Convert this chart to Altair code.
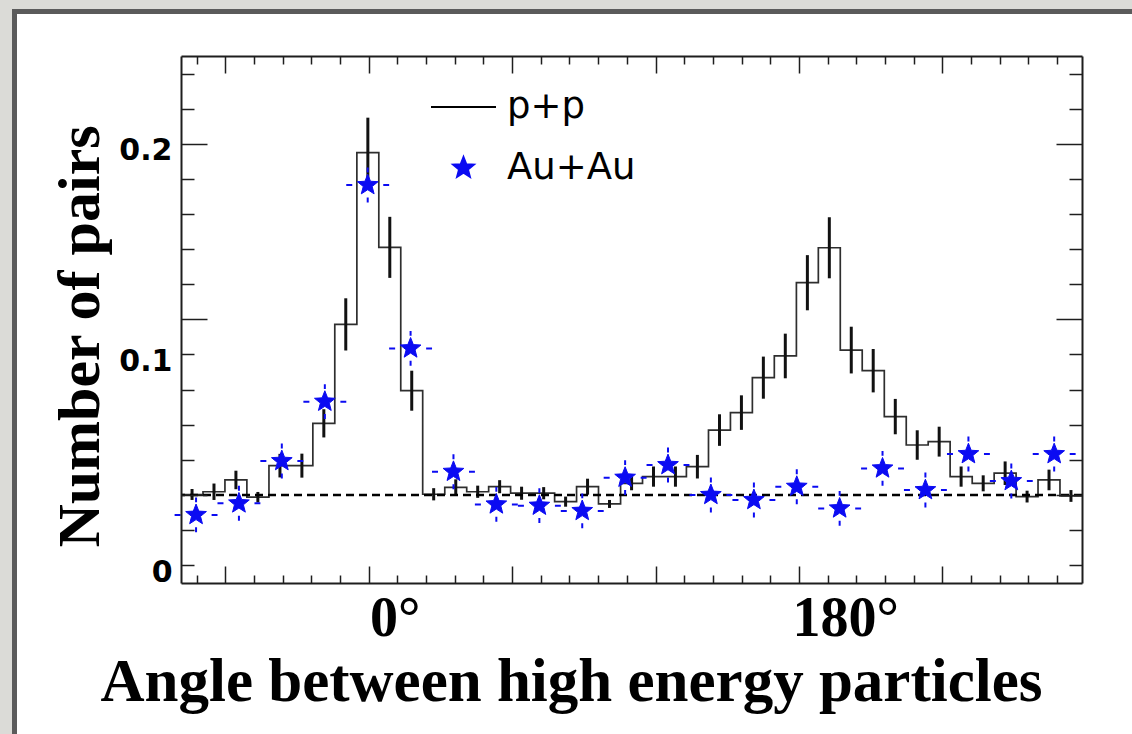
import math
import altair as alt
import pandas as pd

# ---------------- data ----------------
# p+p histogram (bin centres in radians, contents, statistical errors)
pp_x = [-1.232, -1.079, -0.926, -0.773, -0.619, -0.466, -0.313, -0.160, -0.006, 0.147,
        0.300, 0.453, 0.607, 0.760, 0.913, 1.066, 1.220, 1.373, 1.526, 1.679,
        1.833, 1.986, 2.139, 2.292, 2.446, 2.599, 2.752, 2.905, 3.059, 3.212,
        3.365, 3.518, 3.672, 3.825, 3.978, 4.131, 4.285, 4.438, 4.591, 4.744, 4.897]
pp_y = [0.0335, 0.0348, 0.0404, 0.0322, 0.0472, 0.0472, 0.0673, 0.1143, 0.1959, 0.1509,
        0.0828, 0.0336, 0.0369, 0.0348, 0.0372, 0.0341, 0.0341, 0.0301, 0.0372, 0.0290,
        0.0388, 0.0420, 0.0420, 0.0467, 0.0641, 0.0724, 0.0890, 0.0993, 0.1341, 0.1507,
        0.1021, 0.0923, 0.0705, 0.0570, 0.0586, 0.0420, 0.0388, 0.0436, 0.0325, 0.0404, 0.0328]
pp_err = [0.0026, 0.0039, 0.0044, 0.0025, 0.0056, 0.0057, 0.0067, 0.0124, 0.0166, 0.0145,
          0.0095, 0.0029, 0.0038, 0.0029, 0.0031, 0.0031, 0.0029, 0.0024, 0.0038, 0.0019,
          0.0033, 0.0048, 0.0048, 0.0056, 0.0075, 0.0082, 0.0100, 0.0106, 0.0131, 0.0145,
          0.0111, 0.0103, 0.0084, 0.0070, 0.0071, 0.0048, 0.0038, 0.0056, 0.0028, 0.0049, 0.0028]

# Au+Au points (stars)
auau_x = [-1.204, -0.905, -0.606, -0.306, -0.007, 0.292, 0.591, 0.890, 1.190, 1.489,
          1.788, 2.087, 2.386, 2.686, 2.985, 3.284, 3.583, 3.882, 4.182, 4.481, 4.780]
auau_y = [0.0238, 0.0293, 0.0494, 0.0776, 0.1805, 0.1029, 0.0443, 0.0288, 0.0282, 0.0257,
          0.0415, 0.0475, 0.0333, 0.0309, 0.0372, 0.0269, 0.0459, 0.0356, 0.0527, 0.0399, 0.0527]
auau_err = [0.0083] * 21
auau_xerr = [0.1496] * 21

baseline_level = [0.0333]
series_names = ["p+p", "Au+Au"]
x_label_values = [0, math.pi]
x_label_texts = ["0°", "180°"]
y_label_values = [0, 0.1, 0.2]
x_title = "Angle between high energy particles"
y_title = "Number of pairs"

# axis tick positions (ROOT-style inner ticks)
x_major = [-1, 0, 1, 2, 3, 4]
x_minor = [round(-1.2 + 0.2 * i, 3) for i in range(31)]
x_minor = [v for v in x_minor if abs(v - round(v)) > 0.01]
y_all = [k / 60 for k in range(15)]
y_major = [y_all[2], y_all[7], y_all[12]]
y_minor = [v for i, v in enumerate(y_all) if i not in (2, 7, 12)]

# ---------------- styling ----------------
W, H = 901, 527
X_DOM = [-1.309, 4.974]
Y_DOM = [-0.00855, 0.2418]
BLUE = "#0b0bf2"
INK = "#1e1e1e"
SERIF = "Liberation Serif"
SANS = "DejaVu Sans"


def star_path(r_out, ratio):
    pts = []
    for i in range(10):
        ang = math.radians(-90 + 36 * i)
        r = r_out if i % 2 == 0 else r_out * ratio
        pts.append(f"{r * math.cos(ang):.4f},{r * math.sin(ang):.4f}")
    return "M" + " L".join(pts) + " Z"


STAR = star_path(0.335, 0.43)

xs = alt.Scale(domain=X_DOM, nice=False, zero=False)
ys = alt.Scale(domain=Y_DOM, nice=False, zero=False)

pp_df = pd.DataFrame({"x": pp_x, "y": pp_y, "err": pp_err})
half = (pp_x[-1] - pp_x[0]) / (len(pp_x) - 1) / 2
step_df = pd.DataFrame({"x": [v - half for v in pp_x] + [pp_x[-1] + half],
                        "y": pp_y + [pp_y[-1]]})
au_df = pd.DataFrame({"x": auau_x, "y": auau_y, "err": auau_err, "xerr": auau_xerr,
                      "series": series_names[1]})

# white slide panel with dark border
panel = alt.Chart(pd.DataFrame({"k": [0]})).mark_rect(
    fill="white", stroke="#5b5b5b", strokeWidth=5
).encode(x=alt.value(-166.5), x2=alt.value(W + 300), y=alt.value(-44.5), y2=alt.value(H + 300))

hist = alt.Chart(step_df).mark_line(interpolate="step-after", color="#2e2e2e", strokeWidth=1.7).encode(
    x=alt.X("x:Q", scale=xs, axis=None),
    y=alt.Y("y:Q", scale=ys, axis=None),
)

pp_bars = alt.Chart(pp_df).transform_calculate(
    lo="datum.y - datum.err", hi="datum.y + datum.err"
).mark_rule(color="#111111", strokeWidth=3).encode(
    x=alt.X("x:Q", scale=xs, axis=None),
    y=alt.Y("lo:Q", scale=ys, axis=None),
    y2="hi:Q",
)

base = alt.Chart(pd.DataFrame({"y": baseline_level})).mark_rule(
    color="black", strokeWidth=2.5, strokeDash=[8, 5]
).encode(y=alt.Y("y:Q", scale=ys, axis=None))

au_h = alt.Chart(au_df).transform_calculate(
    xl="datum.x - datum.xerr", xh="datum.x + datum.xerr"
).mark_rule(color=BLUE, strokeWidth=2, strokeDash=[6, 31]).encode(
    x=alt.X("xl:Q", scale=xs, axis=None), x2="xh:Q",
    y=alt.Y("y:Q", scale=ys, axis=None),
)

au_v = alt.Chart(au_df).transform_calculate(
    lo="datum.y - datum.err", hi="datum.y + datum.err"
).mark_rule(color=BLUE, strokeWidth=2, strokeDash=[5, 25]).encode(
    x=alt.X("x:Q", scale=xs, axis=None),
    y=alt.Y("lo:Q", scale=ys, axis=None), y2="hi:Q",
)

leg = alt.Legend(title=None, orient="none", legendX=249, legendY=17.5, direction="vertical",
                 padding=0, symbolSize=4225, symbolStrokeWidth=2, symbolOpacity=1,
                 labelFont=SANS, labelFontSize=37, labelColor="black", labelOffset=10,
                 labelLimit=400, rowPadding=9, zindex=1)

stars = alt.Chart(au_df).mark_point(filled=True, size=4225, opacity=1, strokeWidth=1).encode(
    x=alt.X("x:Q", scale=xs, axis=None),
    y=alt.Y("y:Q", scale=ys, axis=None),
    color=alt.Color("series:N", scale=alt.Scale(domain=series_names, range=["black", BLUE]), legend=leg),
    stroke=alt.Stroke("series:N", scale=alt.Scale(domain=series_names, range=["black", BLUE]), legend=leg),
    shape=alt.Shape("series:N", scale=alt.Scale(domain=series_names, range=["stroke", STAR]), legend=leg),
)

label_expr = f"datum.value < 1 ? '{x_label_texts[0]}' : '{x_label_texts[1]}'"

x_main = alt.Axis(orient="bottom", values=x_label_values, labelExpr=label_expr, ticks=False, tickSize=0,
                  domain=True, domainColor=INK, domainWidth=2, grid=False,
                  labelFont=SERIF, labelFontWeight="bold", labelFontSize=56, labelColor="black",
                  labelPadding=8, labelOffset=26, labelFlush=False, labelOverlap=False,
                  title=x_title, titleFont=SERIF, titleFontWeight="bold", titleFontSize=61,
                  titleColor="black", titleX=390, titleY=117, titleAlign="center",
                  titleBaseline="alphabetic", zindex=1)
y_main = alt.Axis(orient="left", values=y_label_values, format="~g", ticks=False, tickSize=0,
                  domain=True, domainColor=INK, domainWidth=2, grid=False,
                  labelFont=SANS, labelFontWeight="bold", labelFontSize=30, labelColor="black",
                  labelPadding=9, labelOffset=7, labelFlush=False, labelOverlap=False,
                  title=y_title, titleFont=SERIF, titleFontWeight="bold", titleFontSize=60,
                  titleColor="black", titleAngle=270, titleX=-83, titleY=280, titleAlign="center",
                  titleBaseline="alphabetic", zindex=1)


def tick_axis(orient, offset, values, size, domain):
    return alt.Axis(orient=orient, offset=offset, values=values, tickSize=size, ticks=True,
                    labels=False, grid=False, title=None, tickColor=INK, tickWidth=1.5,
                    domain=domain, domainColor=INK, domainWidth=2, zindex=1)


def axis_layer(xa, ya):
    return alt.Chart(pp_df).mark_point(opacity=0, size=1).encode(
        x=alt.X("x:Q", scale=xs, axis=xa),
        y=alt.Y("y:Q", scale=ys, axis=ya),
    )


ax1 = axis_layer(x_main, y_main)
ax2 = axis_layer(tick_axis("bottom", -H, x_major, 17, True), tick_axis("left", -W, y_major, 26, True))
ax3 = axis_layer(tick_axis("bottom", -H, x_minor, 8, False), tick_axis("left", -W, y_minor, 13, False))
ax4 = axis_layer(tick_axis("top", -H, x_major, 17, False), tick_axis("right", -W, y_major, 26, False))
ax5 = axis_layer(tick_axis("top", -H, x_minor, 8, False), tick_axis("right", -W, y_minor, 13, False))

chart = alt.layer(
    panel, hist, pp_bars, base, au_h, au_v, stars, ax1, ax2, ax3, ax4, ax5
).resolve_scale(x="shared", y="shared").resolve_axis(x="independent", y="independent").properties(
    width=W, height=H,
    autosize=alt.AutoSizeParams(type="none"),
    padding={"left": 181, "top": 56, "right": 50, "bottom": 151},
).configure(background="#dbdbd7")

chart.save("out.html", embed_options={"renderer": "svg", "actions": False})
